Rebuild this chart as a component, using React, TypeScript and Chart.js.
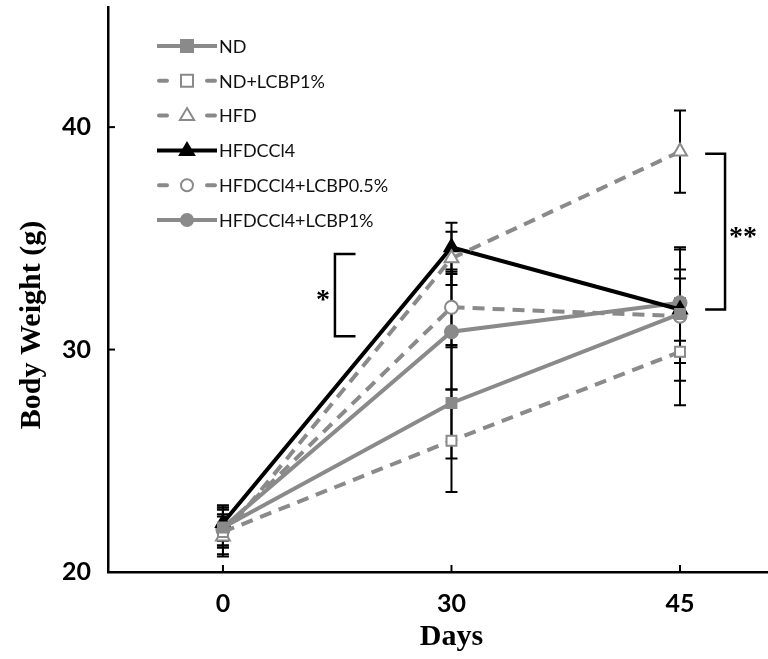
import React, { useEffect, useRef } from "react";
import { Chart, registerables } from "chart.js";

Chart.register(...registerables);

const dayLabels = ["0", "30", "45"];
const seriesNames = ["ND", "ND+LCBP1%", "HFD", "HFDCCl4", "HFDCCl4+LCBP0.5%", "HFDCCl4+LCBP1%"];

const ndValues = [22.0, 27.6, 31.6];
const ndLcbp1Values = [21.8, 25.9, 29.9];
const hfdValues = [21.6, 34.1, 38.9];
const hfdCcl4Values = [22.2, 34.6, 31.8];
const hfdCcl4Lcbp05Values = [21.9, 31.9, 31.5];
const hfdCcl4Lcbp1Values = [22.0, 30.8, 32.1];

const ndSd = [0.9, 2.5, 3.0];
const ndLcbp1Sd = [1.0, 2.3, 2.4];
const hfdSd = [0.9, 1.2, 1.85];
const hfdCcl4Sd = [0.8, 1.1, 1.4];
const hfdCcl4Lcbp05Sd = [0.7, 1.7, 2.1];
const hfdCcl4Lcbp1Sd = [0.9, 2.6, 2.4];

const yTicks = [20, 30, 40];

// significance brackets
const sigBrackets = [
  { x: 0.49, arm: 0.58, top: 34.3, bottom: 30.6, label: "*", side: "left" },
  { x: 2.197, arm: 2.11, top: 38.8, bottom: 31.8, label: "**", side: "right" },
];

const GRAY = "#8a8a8a";

export default function App() {
  const canvasRef = useRef<HTMLCanvasElement | null>(null);

  useEffect(() => {
    const canvas = canvasRef.current;
    if (!canvas) return;

    const seriesValues = [ndValues, ndLcbp1Values, hfdValues, hfdCcl4Values, hfdCcl4Lcbp05Values, hfdCcl4Lcbp1Values];
    const seriesSd = [ndSd, ndLcbp1Sd, hfdSd, hfdCcl4Sd, hfdCcl4Lcbp05Sd, hfdCcl4Lcbp1Sd];
    const styles = [
      { color: GRAY, dashed: false, point: "rect", filled: true },
      { color: GRAY, dashed: true, point: "rect", filled: false },
      { color: GRAY, dashed: true, point: "triangle", filled: false },
      { color: "#000000", dashed: false, point: "triangle", filled: true },
      { color: GRAY, dashed: true, point: "circle", filled: false },
      { color: GRAY, dashed: false, point: "circle", filled: true },
    ];

    const datasets = seriesNames.map((name, i) => ({
      label: name,
      data: seriesValues[i].map((v, j) => ({ x: j, y: v })),
      borderColor: styles[i].color,
      backgroundColor: styles[i].filled ? styles[i].color : "#ffffff",
      pointBackgroundColor: styles[i].filled ? styles[i].color : "#ffffff",
      pointBorderColor: styles[i].color,
      pointBorderWidth: 2,
      pointStyle: styles[i].point,
      pointRadius: styles[i].point === "triangle" ? 8 : styles[i].point === "rect" ? 7 : 6.5,
      borderWidth: 4,
      borderDash: styles[i].dashed ? [12, 8] : [],
      tension: 0,
      fill: false,
      sd: seriesSd[i],
      legendStyle: styles[i],
    }));

    const drawMarker = (ctx: CanvasRenderingContext2D, style: any, x: number, y: number) => {
      ctx.save();
      ctx.setLineDash([]);
      ctx.lineWidth = 2;
      ctx.strokeStyle = style.color;
      ctx.fillStyle = style.filled ? style.color : "#ffffff";
      ctx.beginPath();
      if (style.point === "rect") {
        const s = 6;
        ctx.rect(x - s, y - s, 2 * s, 2 * s);
      } else if (style.point === "triangle") {
        const r = 7.5;
        ctx.moveTo(x, y - r);
        ctx.lineTo(x + r * 0.95, y + r * 0.6);
        ctx.lineTo(x - r * 0.95, y + r * 0.6);
        ctx.closePath();
      } else {
        ctx.arc(x, y, 6, 0, Math.PI * 2);
      }
      ctx.fill();
      ctx.stroke();
      ctx.restore();
    };

    const zeroPadding = (scale: any) => {
      scale.paddingTop = 0;
      scale.paddingBottom = 0;
      scale.paddingLeft = 0;
      scale.paddingRight = 0;
    };

    const customPlugin = {
      id: "custom",
      beforeDatasetsDraw(chart: any) {
        const ctx = chart.ctx;
        const xs = chart.scales.x;
        const ys = chart.scales.y;
        ctx.save();
        ctx.strokeStyle = "#000";
        ctx.lineWidth = 2;
        chart.data.datasets.forEach((ds: any) => {
          ds.data.forEach((p: any, j: number) => {
            const sd = ds.sd[j];
            const px = xs.getPixelForValue(p.x);
            const top = ys.getPixelForValue(p.y + sd);
            const bot = ys.getPixelForValue(p.y - sd);
            ctx.beginPath();
            ctx.moveTo(px, top);
            ctx.lineTo(px, bot);
            ctx.moveTo(px - 6, top);
            ctx.lineTo(px + 6, top);
            ctx.moveTo(px - 6, bot);
            ctx.lineTo(px + 6, bot);
            ctx.stroke();
          });
        });
        ctx.restore();
      },
      afterDraw(chart: any) {
        const ctx = chart.ctx;
        const xs = chart.scales.x;
        const ys = chart.scales.y;
        const area = chart.chartArea;
        ctx.save();
        // inward ticks
        ctx.strokeStyle = "#000";
        ctx.lineWidth = 2;
        yTicks.forEach((v) => {
          const py = ys.getPixelForValue(v);
          ctx.beginPath();
          ctx.moveTo(area.left, py);
          ctx.lineTo(area.left + 7, py);
          ctx.stroke();
        });
        [0, 1, 2].forEach((v) => {
          const px = xs.getPixelForValue(v);
          ctx.beginPath();
          ctx.moveTo(px, area.bottom);
          ctx.lineTo(px, area.bottom - 7);
          ctx.stroke();
        });

        // significance brackets
        ctx.lineWidth = 2.5;
        sigBrackets.forEach((b) => {
          const vx = xs.getPixelForValue(b.x);
          const ax = xs.getPixelForValue(b.arm);
          const t = ys.getPixelForValue(b.top);
          const bt = ys.getPixelForValue(b.bottom);
          ctx.beginPath();
          ctx.moveTo(ax, t);
          ctx.lineTo(vx, t);
          ctx.lineTo(vx, bt);
          ctx.lineTo(ax, bt);
          ctx.stroke();
          ctx.fillStyle = "#000";
          ctx.font = "bold 28px 'Liberation Serif'";
          ctx.textBaseline = "middle";
          const mid = (t + bt) / 2;
          if (b.side === "left") {
            ctx.textAlign = "right";
            ctx.fillText(b.label, vx - 5, mid + 6);
          } else {
            ctx.textAlign = "left";
            ctx.fillText(b.label, vx + 4, mid + 6);
          }
        });

        // legend
        chart.data.datasets.forEach((ds: any, i: number) => {
          const st = ds.legendStyle;
          const y = 46 + i * 34.8;
          ctx.strokeStyle = st.color;
          ctx.lineWidth = 4;
          ctx.setLineDash([]);
          ctx.beginPath();
          if (st.dashed) {
            ctx.lineCap = "round";
            ctx.moveTo(159, y);
            ctx.lineTo(167, y);
            ctx.moveTo(207, y);
            ctx.lineTo(215, y);
          } else {
            ctx.lineCap = "butt";
            ctx.moveTo(157, y);
            ctx.lineTo(217, y);
          }
          ctx.stroke();
          ctx.lineCap = "butt";
          drawMarker(ctx, st, 187, y);
          ctx.fillStyle = "#111";
          ctx.font = "18px Lato";
          ctx.textAlign = "left";
          ctx.textBaseline = "middle";
          ctx.fillText(ds.label, 219, y + 1);
        });

        // axis titles
        ctx.fillStyle = "#000";
        ctx.font = "bold 30px 'Liberation Serif'";
        ctx.textAlign = "center";
        ctx.textBaseline = "middle";
        ctx.fillText("Days", xs.getPixelForValue(1), 637);
        ctx.translate(32, 325);
        ctx.rotate(-Math.PI / 2);
        ctx.fillText("Body Weight (g)", 0, 0);
        ctx.restore();
      },
    };

    const chart = new Chart(canvas, {
      type: "line",
      data: { datasets: datasets as any },
      options: {
        animation: false,
        responsive: false,
        maintainAspectRatio: false,
        layout: { autoPadding: false, padding: { top: 7, right: 0, left: 0, bottom: 0 } },
        plugins: {
          legend: { display: false },
          tooltip: { enabled: false },
        },
        scales: {
          x: {
            type: "linear",
            min: -0.503,
            max: 2.385,
            afterBuildTicks: (scale: any) => {
              scale.ticks = [0, 1, 2].map((v) => ({ value: v }));
            },
            afterFit: (scale: any) => {
              scale.height = 87;
              zeroPadding(scale);
            },
            grid: { display: false, drawTicks: false },
            border: { display: true, color: "#000", width: 2.5 },
            ticks: {
              padding: 17,
              color: "#000",
              font: { family: "Lato", size: 25, weight: "bold" },
              callback: (v: any) => dayLabels[v] ?? "",
              maxRotation: 0,
            },
          },
          y: {
            type: "linear",
            min: 20,
            max: 45.4,
            afterBuildTicks: (scale: any) => {
              scale.ticks = yTicks.map((v) => ({ value: v }));
            },
            afterFit: (scale: any) => {
              scale.width = 108;
              zeroPadding(scale);
            },
            grid: { display: false, drawTicks: false },
            border: { display: true, color: "#000", width: 2.5 },
            ticks: {
              padding: 17,
              color: "#000",
              font: { family: "Lato", size: 25, weight: "bold" },
            },
          },
        },
      },
      plugins: [customPlugin],
    } as any);

    return () => chart.destroy();
  }, []);

  return (
    <div style={{ position: "absolute", left: 0, top: 0, width: 768, height: 659, background: "#fff" }}>
      <canvas ref={canvasRef} width={768} height={659} style={{ display: "block" }} />
    </div>
  );
}
